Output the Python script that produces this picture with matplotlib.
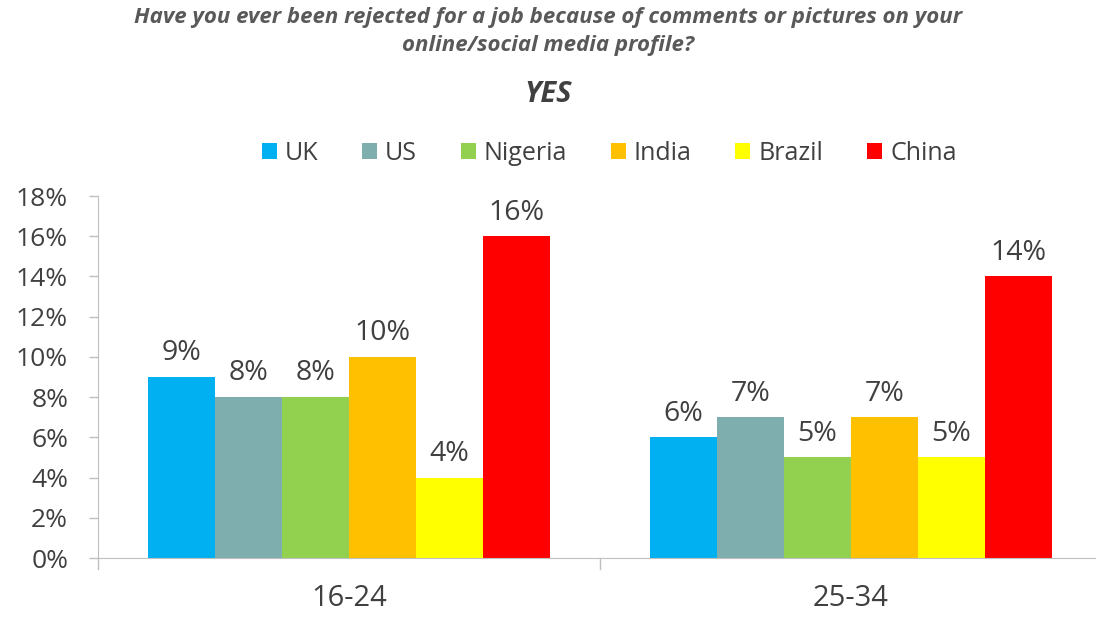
import matplotlib
matplotlib.use("Agg")
import matplotlib.pyplot as plt
import numpy as np

categories = ["16-24", "25-34"]
countries = ["UK", "US", "Nigeria", "India", "Brazil", "China"]
values = {
    "UK": [9, 6],
    "US": [8, 7],
    "Nigeria": [8, 5],
    "India": [10, 7],
    "Brazil": [4, 5],
    "China": [16, 14],
}
colors = ["#00B0F0", "#7FAEAE", "#92D050", "#FFC000", "#FFFF00", "#FF0000"]
yticks = [0, 2, 4, 6, 8, 10, 12, 14, 16, 18]

plt.rcParams['font.family'] = ['Open Sans', 'DejaVu Sans']
txt = "#404040"
axc = "#BFBFBF"

fig = plt.figure(figsize=(10.96, 6.18), dpi=100)
W, H = 1096, 618
left_px, right_px, top_px, bot_px = 98, 1096, 196, 558
ax = fig.add_axes([left_px / W, (H - bot_px) / H, (right_px - left_px) / W, (bot_px - top_px) / H])

n = len(countries)
bw = 0.8 / n
x = np.arange(len(categories))
for i, (c, col) in enumerate(zip(countries, colors)):
    pos = x - 0.4 + bw * (i + 0.5)
    bars = ax.bar(pos, values[c], width=bw, color=col, label=c, zorder=2)
    for b, v in zip(bars, values[c]):
        ax.annotate(f"{v}%", (b.get_x() + b.get_width() / 2, v), xytext=(0, 12),
                    textcoords="offset points", ha="center", va="baseline",
                    fontsize=20.5, color=txt)

ax.set_ylim(0, 18)
ax.set_xlim(-0.5, -0.5 + (right_px - left_px) / 502)
ax.set_yticks(yticks)
ax.set_yticklabels([f"{t}%" for t in yticks], fontsize=19, color=txt)
ax.set_xticks(x)
ax.set_xticklabels(categories, fontsize=21, color=txt)
ax.tick_params(axis="x", length=0, pad=19)
ax.tick_params(axis="y", length=6.5, color=axc, width=1, pad=15)
# category boundary ticks
for xb in [-0.5, 0.5]:
    ax.plot([xb, xb], [0, -0.55], color=axc, lw=1, clip_on=False, zorder=1)

for s in ["top", "right"]:
    ax.spines[s].set_visible(False)
ax.spines["left"].set_color(axc)
ax.spines["bottom"].set_color(axc)

fig.text(0.5, 1 - 18 / H, "Have you ever been rejected for a job because of comments or pictures on your",
         ha="center", va="center", fontsize=16, style="italic", weight="bold", color="#595959")
fig.text(0.5, 1 - 46 / H, "online/social media profile?",
         ha="center", va="center", fontsize=16, style="italic", weight="bold", color="#595959")
fig.text(0.5, 1 - 95 / H, "YES", ha="center", va="center", fontsize=21,
         style="italic", weight="bold", color="#404040")

fig.legend(loc="center", bbox_to_anchor=(609 / W, 1 - 153 / H), ncol=6, frameon=False,
           fontsize=18, handlelength=0.6, handleheight=0.6, handletextpad=0.32,
           columnspacing=1.75, labelcolor=txt)

fig.savefig("out.png", dpi=100)
